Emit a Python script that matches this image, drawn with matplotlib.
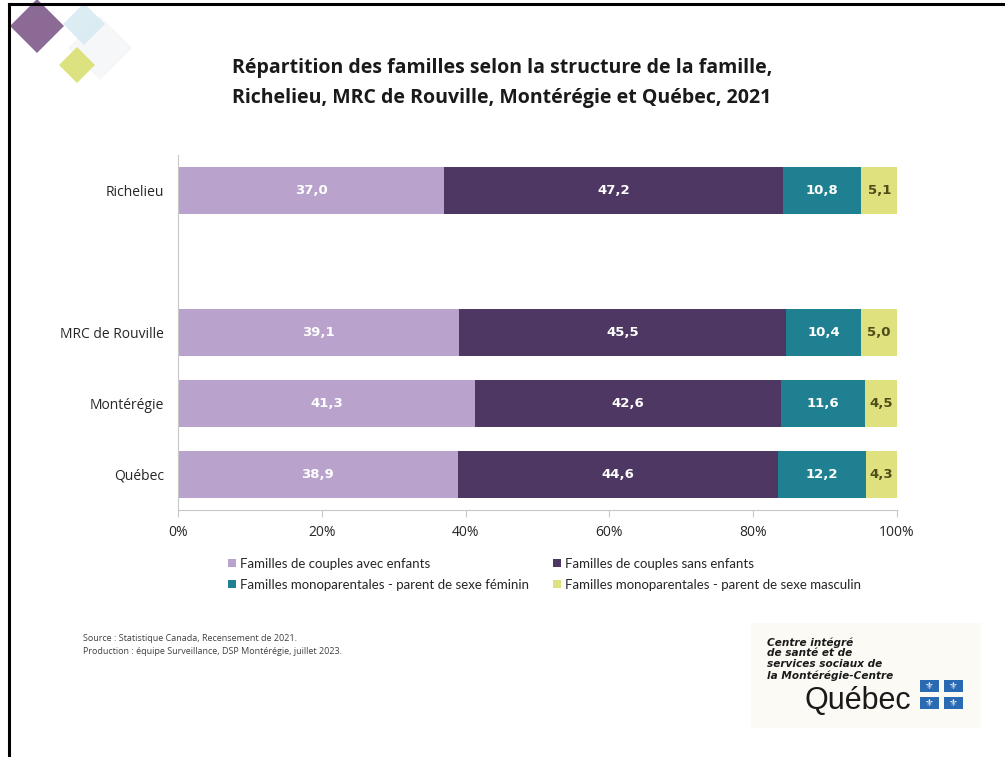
import matplotlib
matplotlib.use("Agg")
import matplotlib.pyplot as plt
from matplotlib.patches import Polygon, Rectangle, Patch
from matplotlib.lines import Line2D

plt.rcParams['font.family'] = ['Open Sans', 'DejaVu Sans']

categories = ["Québec", "Montérégie", "MRC de Rouville", "", "Richelieu"]
series_names = ["Familles de couples avec enfants",
                "Familles de couples sans enfants",
                "Familles monoparentales - parent de sexe féminin",
                "Familles monoparentales - parent de sexe masculin"]
avec_enfants = [38.9, 41.3, 39.1, None, 37.0]
sans_enfants = [44.6, 42.6, 45.5, None, 47.2]
mono_fem = [12.2, 11.6, 10.4, None, 10.8]
mono_masc = [4.3, 4.5, 5.0, None, 5.1]
xticks = [0, 20, 40, 60, 80, 100]
xticklabels = ["0%", "20%", "40%", "60%", "80%", "100%"]

colors = ["#b9a3cc", "#4f3763", "#1f8091", "#dfe07e"]
label_colors = ["white", "white", "white", "#4d4d1a"]

fig = plt.figure(figsize=(10.05, 7.57), dpi=100)
ax = fig.add_axes([178/1005, 1-510/757, (897-178)/1005, (510-155)/757])

series = [avec_enfants, sans_enfants, mono_fem, mono_masc]
ypos = list(range(len(categories)))
left = [0.0]*len(categories)
for s, col, lcol in zip(series, colors, label_colors):
    for i, v in enumerate(s):
        if v is None:
            continue
        ax.barh(i, v, left=left[i], height=0.65, color=col, edgecolor='none')
        ax.text(left[i] + v/2, i, f"{v:.1f}".replace('.', ','), ha='center', va='center',
                color=lcol, fontsize=9.5, fontweight='bold', family=['DejaVu Sans'])
        left[i] += v

ax.set_ylim(-0.5, 4.5)
ax.set_xlim(0, 100)
ax.set_yticks(ypos)
ax.set_yticklabels(categories, fontsize=10, color='#262626')
ax.tick_params(axis='y', length=0, pad=10)
ax.set_xticks(xticks)
ax.set_xticklabels(xticklabels, fontsize=10, color='#262626')
ax.tick_params(axis='x', length=5, color='#c8c8c8', pad=6)
for sp in ['top', 'right']:
    ax.spines[sp].set_visible(False)
ax.spines['left'].set_color('#c8c8c8')
ax.spines['bottom'].set_color('#c8c8c8')

handles = [Patch(facecolor=c, edgecolor='none') for c in colors]
leg_kw = dict(loc='upper left', frameon=False, handlelength=0.6,
              handleheight=0.6, handletextpad=0.35, labelspacing=0.68,
              prop={'family': ['Lato', 'DejaVu Sans'], 'size': 9.5})
leg1 = fig.legend([handles[0], handles[2]], [series_names[0], series_names[2]],
                  bbox_to_anchor=(216/1005, 1-546/757), **leg_kw)
leg2 = fig.legend([handles[1], handles[3]], [series_names[1], series_names[3]],
                  bbox_to_anchor=(541/1005, 1-546/757), **leg_kw)
for lg in (leg1, leg2):
    for t in lg.get_texts():
        t.set_color('#262626')

fig.text(502/1005, 1-83/757,
         "Répartition des familles selon la structure de la famille,\nRichelieu, MRC de Rouville, Montérégie et Québec, 2021",
         ha='center', va='center', fontsize=14, fontweight='bold', color='#1a1a1a',
         linespacing=1.6)

fig.text(83/1005, 1-645/757,
         "Source : Statistique Canada, Recensement de 2021.\nProduction : équipe Surveillance, DSP Montérégie, juillet 2023.",
         ha='left', va='center', fontsize=6.5, color='#404040', linespacing=1.5)

# border lines
fig.add_artist(Line2D([9/1005, 1], [1-4/757, 1-4/757], color='black', lw=2.2, transform=fig.transFigure))
fig.add_artist(Line2D([9/1005, 9/1005], [0, 1-4/757], color='black', lw=2.2, transform=fig.transFigure))

# decorative diamonds
def diamond(cx, cy, r, color, alpha=1.0):
    pts = [(cx/1005, 1-(cy-r)/757), ((cx+r)/1005, 1-cy/757),
           (cx/1005, 1-(cy+r)/757), ((cx-r)/1005, 1-cy/757)]
    fig.add_artist(Polygon(pts, closed=True, transform=fig.transFigure,
                           facecolor=color, edgecolor='none', alpha=alpha))

diamond(100, 48, 32, '#f6f7f9')
diamond(37, 26, 27, '#8b6b95')
diamond(84, 24, 21, '#d6e9f1', alpha=0.85)
diamond(77, 65, 18, '#dde281')

# logo block
fig.add_artist(Rectangle((751/1005, 1-728/757), (981-751)/1005, (728-623)/757,
                         transform=fig.transFigure, facecolor='#fbfaf5', edgecolor='none'))
fig.text(767/1005, 1-659/757,
         "Centre intégré\nde santé et de\nservices sociaux de\nla Montérégie-Centre",
         ha='left', va='center', fontsize=7.6, fontweight='bold', style='italic',
         color='#1a1a1a', linespacing=1.12, family=['DejaVu Sans'])
fig.text(804/1005, 1-701/757, "Québec", ha='left', va='center', fontsize=22,
         color='#1a1a1a', family=['Liberation Sans', 'DejaVu Sans'])
for (fx, fy) in [(929.5, 686), (953.5, 686), (929.5, 703), (953.5, 703)]:
    fig.add_artist(Rectangle(((fx-9.5)/1005, 1-(fy+6)/757), 19/1005, 12/757,
                             transform=fig.transFigure, facecolor='#2a6ab3', edgecolor='none'))
    fig.text(fx/1005, 1-fy/757, "⚜", ha='center', va='center', fontsize=7,
             color='white', family=['DejaVu Sans'])

fig.savefig("out.png", dpi=100, facecolor='white')
